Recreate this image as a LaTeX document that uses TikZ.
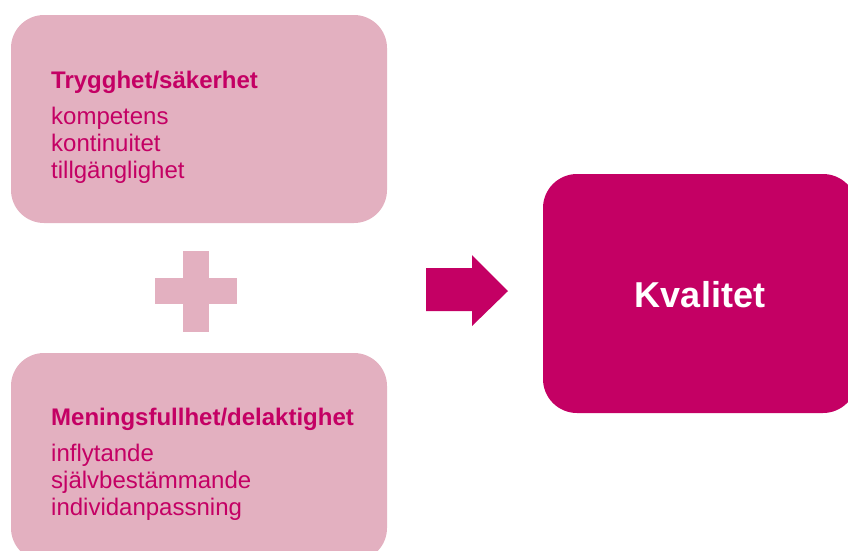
\documentclass[tikz,border=0pt]{standalone}
\usepackage{fontspec}
\setmainfont{Liberation Sans}
\definecolor{rosa}{RGB}{227,176,192}
\definecolor{cerise}{RGB}{196,0,100}
\tikzset{
  ruta/.style={fill=rosa, rounded corners=33pt, minimum width=376pt, minimum height=208pt, inner sep=0pt},
  titel/.style={anchor=base west, inner sep=0pt, text=cerise, font=\fontsize{24}{28}\selectfont\bfseries},
  rad/.style={anchor=base west, inner sep=0pt, text=cerise, font=\fontsize{24}{28}\selectfont},
}
\begin{document}
\begin{tikzpicture}[x=1pt,y=-1pt]
\useasboundingbox (0,0) rectangle (848,550);
\clip (0,0) rectangle (848,550);
% rutor
\node[ruta] (trygg) at (199,119) {};
\node[ruta] (mening) at (199,457) {};
\node[fill=cerise, rounded corners=34pt, minimum width=314pt, minimum height=239pt, inner sep=0pt] (kval) at (700,293.5) {};
% texter
\node[titel] (trygg-titel) at (51,88) {Trygghet/säkerhet};
\foreach \txt [count=\i] in {kompetens,kontinuitet,tillgänglighet}
  \node[rad] (trygg-\i) at (51,{97+27*\i}) {\txt};
\node[titel] (mening-titel) at (51,425) {Meningsfullhet/delaktighet};
\foreach \txt [count=\i] in {inflytande,självbestämmande,individanpassning}
  \node[rad] (mening-\i) at (51,{434+27*\i}) {\txt};
\node[anchor=base, inner sep=0pt, text=white, font=\fontsize{36}{40}\selectfont\bfseries] (kval-text) at (700,307) {Kvalitet};
% plus
\fill[rosa] (155,278) rectangle (237,304);
\fill[rosa] (183,251) rectangle (209,332);
% pil
\fill[cerise] (426,268) -- (472,268) -- (472,255) -- (508,291) -- (472,326) -- (472,311) -- (426,311) -- cycle;
\end{tikzpicture}
\end{document}
